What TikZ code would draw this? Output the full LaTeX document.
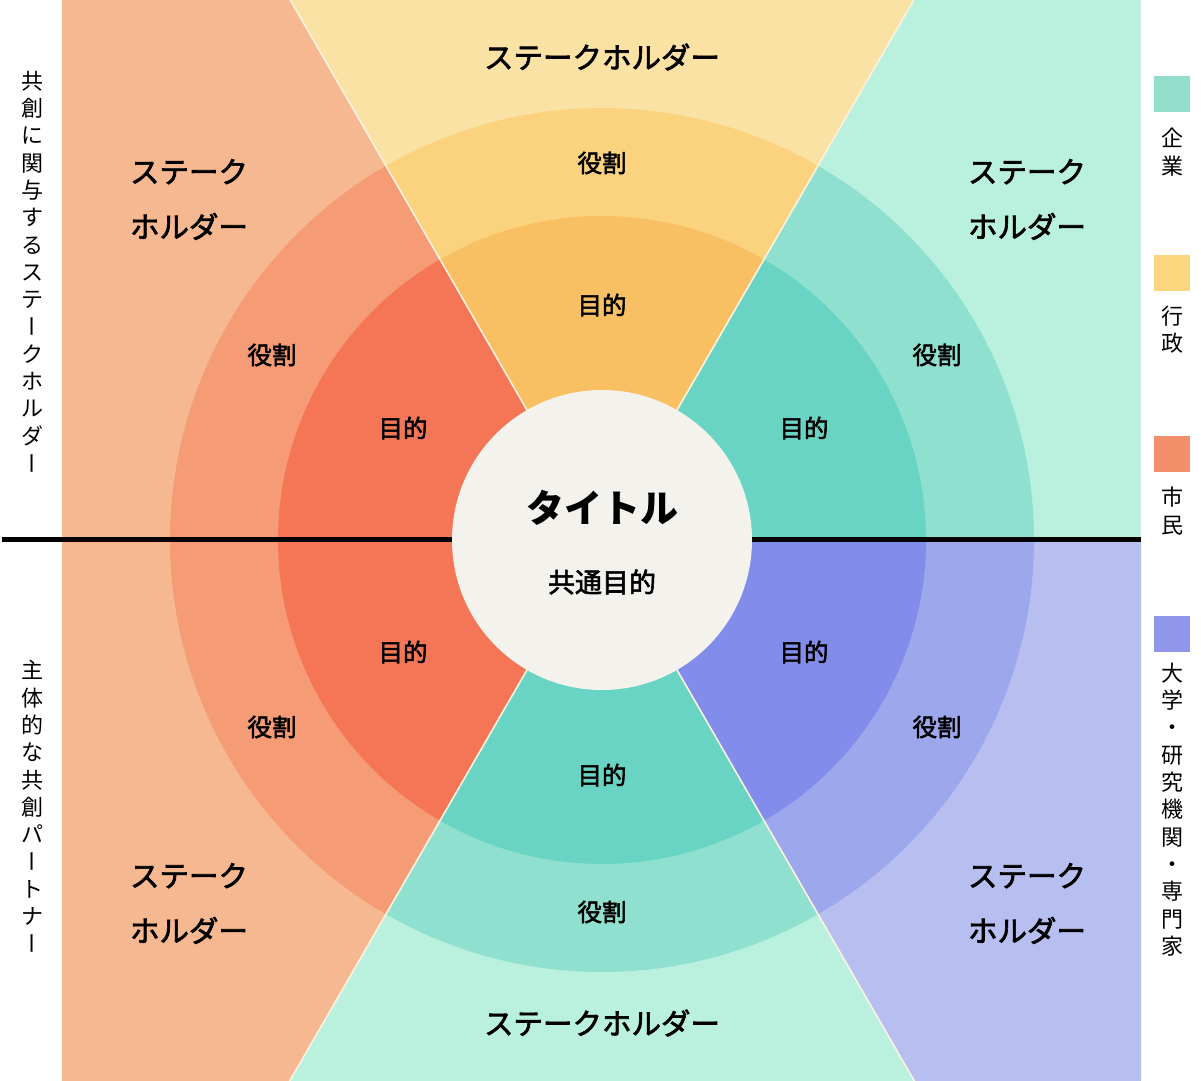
\documentclass[tikz,border=0pt]{standalone}
\usepackage{fontspec}
\usepackage{graphicx}
\setmainfont{Noto Sans CJK JP}
\newfontfamily\jpmed[FakeBold=2.2]{Noto Sans CJK JP}
\usetikzlibrary{calc}
\definecolor{yelO}{HTML}{FAE2A5}
\definecolor{yelR}{HTML}{FBD37F}
\definecolor{yelI}{HTML}{F9BF63}
\definecolor{orO}{HTML}{F5B891}
\definecolor{orR}{HTML}{F59C77}
\definecolor{orI}{HTML}{F47656}
\definecolor{tealO}{HTML}{B9F0DE}
\definecolor{tealR}{HTML}{8FE0CF}
\definecolor{tealI}{HTML}{69D4C3}
\definecolor{blO}{HTML}{B7BEF0}
\definecolor{blR}{HTML}{9CA7EC}
\definecolor{blI}{HTML}{828CEA}
\definecolor{circ}{HTML}{F3F2EC}
\definecolor{sepc}{HTML}{FBF2DF}
\definecolor{legT}{HTML}{94DFCC}
\definecolor{legY}{HTML}{FDD57F}
\definecolor{legO}{HTML}{F48F6B}
\definecolor{legB}{HTML}{8F95E8}
\newcommand\vbar{\rotatebox[origin=c]{90}{\raisebox{0pt}[0.76em][0pt]{ー}}}
\begin{document}
\begin{tikzpicture}[x=1pt,y=1pt,
  sh/.style={font=\jpmed\fontsize{29.5}{55}\selectfont, align=center, inner sep=0pt},
  lab/.style={font=\jpmed\fontsize{24.5}{28}\selectfont, inner sep=0pt},
  vtext/.style={font=\fontsize{22}{27.3}\selectfont, align=center, inner sep=0pt},
  legbox/.style={fill=#1, minimum size=36pt, inner sep=0pt},
  sepline/.style={draw=sepc, line width=1.6pt}]
\useasboundingbox (0,0) rectangle (1201,1080);
\fill[white] (0,0) rectangle (1201,1080);
\coordinate (C) at (602,540);
\begin{scope}
\clip (62,0) rectangle (1141,1080);
\foreach \a/\o/\r/\i in {0/tealO/tealR/tealI, 60/yelO/yelR/yelI, 120/orO/orR/orI, 180/orO/orR/orI, 240/tealO/tealR/tealI, 300/blO/blR/blI} {
  \fill[\o] (C) -- +(\a:2000) -- +({\a+60}:2000) -- cycle;
  \fill[\r] (C) -- +(\a:432) arc[start angle=\a, end angle={\a+60}, radius=432] -- cycle;
  \fill[\i] (C) -- +(\a:324) arc[start angle=\a, end angle={\a+60}, radius=324] -- cycle;
}
\foreach \a in {60,120,240,300} \draw[sepline] (C) -- +(\a:2000);
\end{scope}
\coordinate (L) at (2,540);
\coordinate (R) at (1141,540);
\draw[line width=5pt] (L) -- (R);
\node[circle, fill=circ, minimum size=300pt, inner sep=0pt] (core) at (C) {};
\node[font=\bfseries\fontsize{38}{40}\selectfont, inner sep=0pt] (title) at (602,572) {タイトル};
\node[font=\jpmed\fontsize{27}{30}\selectfont, inner sep=0pt] (common) at (602,498) {共通目的};
% top
\node[sh] (shT) at (602,1023) {ステークホルダー};
\node[lab] (rT) at (602,917) {役割};
\node[lab] (pT) at (602,775) {目的};
% upper left
\node[sh] (shUL) at (189,880.5) {ステーク\\ホルダー};
\node[lab] (rUL) at (272,725) {役割};
\node[lab] (pUL) at (403,652) {目的};
% upper right
\node[sh] (shUR) at (1027,880.5) {ステーク\\ホルダー};
\node[lab] (rUR) at (937,725) {役割};
\node[lab] (pUR) at (804,652) {目的};
% lower left
\node[sh] (shLL) at (189,176.5) {ステーク\\ホルダー};
\node[lab] (rLL) at (272,353) {役割};
\node[lab] (pLL) at (403,428) {目的};
% lower right
\node[sh] (shLR) at (1027,176.5) {ステーク\\ホルダー};
\node[lab] (rLR) at (937,353) {役割};
\node[lab] (pLR) at (804,428) {目的};
% bottom
\node[sh] (shB) at (602,57) {ステークホルダー};
\node[lab] (rB) at (602,168) {役割};
\node[lab] (pB) at (602,305) {目的};
% left side texts
\node[vtext] (leftTop) at (32,807.5) {共\\創\\に\\関\\与\\す\\る\\ス\\テ\\\vbar\\ク\\ホ\\ル\\ダ\\\vbar};
\node[vtext] (leftBot) at (32,272.5) {主\\体\\的\\な\\共\\創\\パ\\\vbar\\ト\\ナ\\\vbar};
% legend
\node[legbox=legT] (lgT) at (1172,986) {};
\node[vtext] (lgTt) at (1172,928) {企\\業};
\node[legbox=legY] (lgY) at (1172,806.5) {};
\node[vtext] (lgYt) at (1172,750) {行\\政};
\node[legbox=legO] (lgO) at (1172,626) {};
\node[vtext] (lgOt) at (1172,569) {市\\民};
\node[legbox=legB] (lgB) at (1172,446) {};
\node[vtext] (lgBt) at (1172,270.5) {大\\学\\・\\研\\究\\機\\関\\・\\専\\門\\家};
\end{tikzpicture}
\end{document}
